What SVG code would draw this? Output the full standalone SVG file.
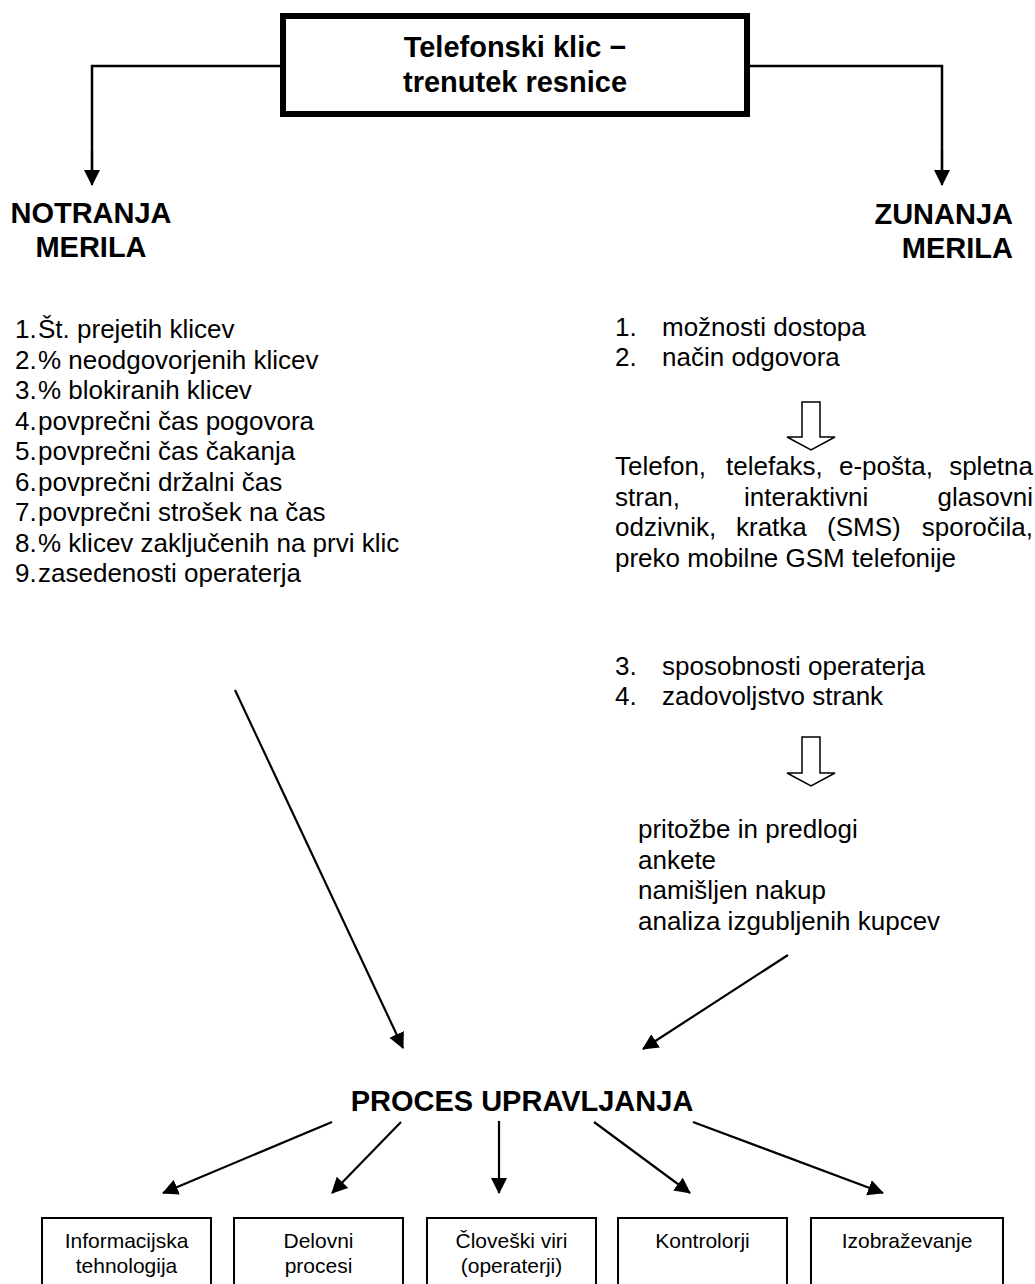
<svg xmlns="http://www.w3.org/2000/svg" width="1035" height="1284" viewBox="0 0 1035 1284">
<style>
  text { font-family: "Liberation Sans", Arial, sans-serif; fill: #000; }
  .h { font-size: 29px; font-weight: bold; }
  .b { font-size: 26px; }
  .s { font-size: 21px; text-anchor: middle; }
  .c { text-anchor: middle; }
  .e { text-anchor: end; }
  .ln { stroke: #000; stroke-width: 2.5; fill: none; }
  .la { stroke: #000; stroke-width: 2.2; fill: none; marker-end: url(#ah); }
  .box { fill: #fff; stroke: #000; stroke-width: 2; }
  .hollow { fill: #fff; stroke: #000; stroke-width: 1.5; }
</style>
<defs>
  <marker id="ah" markerUnits="userSpaceOnUse" markerWidth="17" markerHeight="17" refX="15" refY="8" orient="auto">
    <path d="M0,0 L16,8 L0,16 z" fill="#000"/>
  </marker>
</defs>
<rect width="1035" height="1284" fill="#fff"/>

<g id="connectors">
  <polyline class="ln" points="282,66 92,66 92,170"/>
  <polyline class="la" points="92,150 92,185"/>
  <polyline class="ln" points="747,66 942,66 942,170"/>
  <polyline class="la" points="942,150 942,185"/>
  <line class="la" x1="235" y1="690" x2="403" y2="1048"/>
  <line class="la" x1="788" y1="955" x2="643" y2="1049"/>
  <line class="la" x1="332" y1="1122" x2="163" y2="1193"/>
  <line class="la" x1="401" y1="1122" x2="332" y2="1193"/>
  <line class="la" x1="499" y1="1121" x2="499" y2="1193"/>
  <line class="la" x1="594" y1="1122" x2="690" y2="1193"/>
  <line class="la" x1="693" y1="1122" x2="883" y2="1193"/>
  <path class="hollow" d="M802,402 L820,402 L820,437 L835,437 L811,450 L787,437 L802,437 Z"/>
  <path class="hollow" d="M802,737 L820,737 L820,773 L835,773 L811,786 L787,773 L802,773 Z"/>
</g>

<g id="title">
  <rect x="283" y="16" width="464" height="98" fill="#fff" stroke="#000" stroke-width="6"/>
  <text class="h c" x="515" y="57">Telefonski klic −</text>
  <text class="h c" x="515" y="92">trenutek resnice</text>
</g>

<g id="notranja">
  <text class="h c" x="91" y="223">NOTRANJA</text>
  <text class="h c" x="91" y="257">MERILA</text>
</g>

<g id="zunanja">
  <text class="h e" x="1013" y="224">ZUNANJA</text>
  <text class="h e" x="1013" y="258">MERILA</text>
</g>

<g id="notranja-list">
  <text class="b" x="15" y="338">1.</text><text class="b" x="38" y="338">Št. prejetih klicev</text>
  <text class="b" x="15" y="368.5">2.</text><text class="b" x="38" y="368.5">% neodgovorjenih klicev</text>
  <text class="b" x="15" y="399">3.</text><text class="b" x="38" y="399">% blokiranih klicev</text>
  <text class="b" x="15" y="429.5">4.</text><text class="b" x="38" y="429.5">povprečni čas pogovora</text>
  <text class="b" x="15" y="460">5.</text><text class="b" x="38" y="460">povprečni čas čakanja</text>
  <text class="b" x="15" y="490.5">6.</text><text class="b" x="38" y="490.5">povprečni držalni čas</text>
  <text class="b" x="15" y="521">7.</text><text class="b" x="38" y="521">povprečni strošek na čas</text>
  <text class="b" x="15" y="551.5">8.</text><text class="b" x="38" y="551.5">% klicev zaključenih na prvi klic</text>
  <text class="b" x="15" y="582">9.</text><text class="b" x="38" y="582">zasedenosti operaterja</text>
</g>

<g id="zunanja-list-a">
  <text class="b" x="615" y="336">1.</text><text class="b" x="662" y="336">možnosti dostopa</text>
  <text class="b" x="615" y="366">2.</text><text class="b" x="662" y="366">način odgovora</text>
</g>

<g id="channels">
  <text class="b" x="615" y="475">Telefon,</text>
  <text class="b" x="726" y="475">telefaks,</text>
  <text class="b" x="839" y="475">e-pošta,</text>
  <text class="b e" x="1033" y="475">spletna</text>
  <text class="b" x="615" y="505.5">stran,</text>
  <text class="b" x="744" y="505.5">interaktivni</text>
  <text class="b e" x="1033" y="505.5">glasovni</text>
  <text class="b" x="615" y="536">odzivnik,</text>
  <text class="b" x="736" y="536">kratka</text>
  <text class="b" x="827" y="536">(SMS)</text>
  <text class="b e" x="1033" y="536">sporočila,</text>
  <text class="b" x="615" y="566.5">preko mobilne GSM telefonije</text>
</g>

<g id="zunanja-list-b">
  <text class="b" x="615" y="675">3.</text><text class="b" x="662" y="675">sposobnosti operaterja</text>
  <text class="b" x="615" y="705">4.</text><text class="b" x="662" y="705">zadovoljstvo strank</text>
</g>

<g id="methods">
  <text class="b" x="638" y="838">pritožbe in predlogi</text>
  <text class="b" x="638" y="868.5">ankete</text>
  <text class="b" x="638" y="899">namišljen nakup</text>
  <text class="b" x="638" y="929.5">analiza izgubljenih kupcev</text>
</g>

<g id="proces">
  <text class="h c" x="522" y="1111">PROCES UPRAVLJANJA</text>
</g>

<g id="box-it">
  <rect class="box" x="42" y="1218" width="169" height="90"/>
  <text class="s" x="126.5" y="1248">Informacijska</text>
  <text class="s" x="126.5" y="1273">tehnologija</text>
</g>
<g id="box-delovni">
  <rect class="box" x="234" y="1218" width="169" height="90"/>
  <text class="s" x="318.5" y="1248">Delovni</text>
  <text class="s" x="318.5" y="1273">procesi</text>
</g>
<g id="box-cloveski">
  <rect class="box" x="427" y="1218" width="169" height="90"/>
  <text class="s" x="511.5" y="1248">Človeški viri</text>
  <text class="s" x="511.5" y="1273">(operaterji)</text>
</g>
<g id="box-kontrolorji">
  <rect class="box" x="618" y="1218" width="169" height="90"/>
  <text class="s" x="702.5" y="1248">Kontrolorji</text>
</g>
<g id="box-izobrazevanje">
  <rect class="box" x="811" y="1218" width="192" height="90"/>
  <text class="s" x="907" y="1248">Izobraževanje</text>
</g>
</svg>
